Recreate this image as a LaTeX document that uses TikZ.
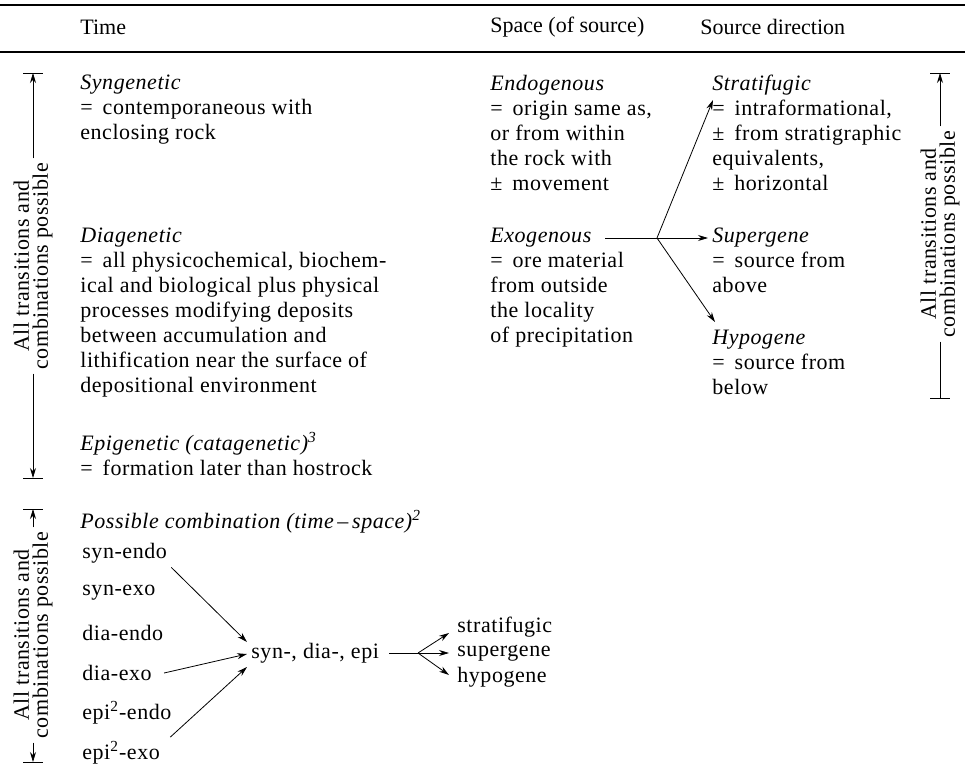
\documentclass[tikz,border=0pt]{standalone}
\usepackage{fontspec}
\setmainfont{Liberation Serif}[LetterSpace=2.5]
\newfontfamily\hdrfont{Liberation Serif}
\usetikzlibrary{positioning, calc, arrows.meta}

\tikzset{
  txt/.style={anchor=north west, inner sep=0pt, align=left, font=\fontsize{11}{12.5}\selectfont},
  item/.style={anchor=west, inner sep=2pt, font=\fontsize{11}{12.5}\selectfont},
  hdr/.style={anchor=west, inner sep=0pt, font=\hdrfont\fontsize{11}{12.5}\selectfont},
  brtxt/.style={rotate=90, align=center, inner sep=2pt, font=\fontsize{11}{9.5}\selectfont},
  arr/.style={-{Stealth[length=5pt,width=3pt]}, thin},
  tick/.style={thin},
  rule/.style={line width=0.6pt},
}
\newcommand{\eqs}{=\hspace{0.45em}}

\begin{document}
\begin{tikzpicture}[x=0.5pt,y=-0.5pt]
    \useasboundingbox (0,0) rectangle (965,771);

        % ===================================================
        % Header rules and column titles
        % ===================================================
        \draw[rule] (0,5) -- (965,5);
        \draw[rule] (0,52) -- (965,52);
        \node[hdr] (hTime) at (80,27) {Time};
        \node[hdr] (hSpace) at (490,27) {Space (of source)};
        \node[hdr] (hDir) at (700,27) {Source direction};

        % ===================================================
        % Time column
        % ===================================================
        \node[txt] (syn) at (80,75) {\textit{Syngenetic}\\
            \eqs contemporaneous with\\
            enclosing rock};
        \node[txt] (dia) at (80,228) {\textit{Diagenetic}\\
            \eqs all physicochemical, biochem-\\
            ical and biological plus physical\\
            processes modifying deposits\\
            between accumulation and\\
            lithification near the surface of\\
            depositional environment};
        \node[txt] (epi) at (80,432) {\textit{Epigenetic (catagenetic)\textsuperscript{3}}\\
            \eqs formation later than hostrock};

        % ===================================================
        % Space column
        % ===================================================
        \node[txt] (endo) at (490,75) {\textit{Endogenous}\\
            \eqs origin same as,\\
            or from within\\
            the rock with\\
            ±\hspace{0.45em}movement};
        \node[txt] (exo) at (490,228) {\textit{Exogenous}\\
            \eqs ore material\\
            from outside\\
            the locality\\
            of precipitation};

        % ===================================================
        % Source direction column
        % ===================================================
        \node[txt] (strat) at (712,75) {\textit{Stratifugic}\\
            \eqs intraformational,\\
            ±\hspace{0.45em}from stratigraphic\\
            equivalents,\\
            ±\hspace{0.45em}horizontal};
        \node[txt] (super) at (712,228) {\textit{Supergene}\\
            \eqs source from\\
            above};
        \node[txt] (hypo) at (712,330) {\textit{Hypogene}\\
            \eqs source from\\
            below};

        % exogenous -> three source directions
        \coordinate (exoEnd) at (605,238);
        \coordinate (hub) at (657,238);
        \coordinate (tStrat) at (713,100);
        \coordinate (tSuper) at (708,238);
        \coordinate (tHypo) at (715,322);
        \draw[thin] (exoEnd) -- (hub);
        \draw[arr] (hub) -- (tStrat);
        \draw[arr] (hub) -- (tSuper);
        \draw[arr] (hub) -- (tHypo);

        % ===================================================
        % Possible combinations
        % ===================================================
        \node[txt] (poss) at (80,510) {\textit{Possible combination (time\,--\,space)\textsuperscript{2}}};
        \node[item] (synendo) at (78,553) {syn-endo};
        \node[item] (synexo) at (78,593) {syn-exo};
        \node[item] (diaendo) at (78,633) {dia-endo};
        \node[item] (diaexo) at (78,673) {dia-exo};
        \node[item] (epiendo) at (78,713) {epi\textsuperscript{2}-endo};
        \node[item] (epiexo) at (78,753) {epi\textsuperscript{2}-exo};

        \node[item] (sde) at (247,653) {syn-, dia-, epi};
        \node[item] (cStrat) at (453,627) {stratifugic};
        \node[item] (cSuper) at (453,653) {supergene};
        \node[item] (cHypo) at (453,677) {hypogene};

        \draw[arr] (synendo.south east) -- ([yshift=5.5pt]sde.west);
        \draw[arr] ([xshift=4pt]diaexo.east) -- ([yshift=-0.5pt]sde.west);
        \draw[arr] ([xshift=3pt]epiexo.north east) -- ([yshift=-7pt]sde.west);

        \coordinate (hub2) at (418,653);
        \draw[thin] ([xshift=3pt]sde.east) -- (hub2);
        \draw[arr] (hub2) -- ([xshift=-2pt,yshift=-3pt]cStrat.west);
        \draw[arr] (hub2) -- ([xshift=-2pt]cSuper.west);
        \draw[arr] (hub2) -- ([xshift=-2pt,yshift=1pt]cHypo.west);

        % ===================================================
        % Brackets: all transitions and combinations possible
        % ===================================================
        \coordinate (bl1t) at (33,73);
        \coordinate (bl1b) at (33,478);
        \node[brtxt] (bl1) at (33,266) {All transitions and\\combinations possible};
        \draw[arr] (bl1.east) -- (bl1t);
        \draw[arr] (bl1.west) -- (bl1b);
        \draw[tick] ([xshift=-5pt]bl1t) -- ([xshift=5pt]bl1t);
        \draw[tick] ([xshift=-5pt]bl1b) -- ([xshift=5pt]bl1b);

        \coordinate (brt) at (940,73);
        \coordinate (brb) at (940,398);
        \node[brtxt] (br) at (940,234) {All transitions and\\combinations possible};
        \draw[arr] (br.east) -- (brt);
        \draw[thin] (br.west) -- (brb);
        \draw[tick] ([xshift=-5pt]brt) -- ([xshift=5pt]brt);
        \draw[tick] ([xshift=-5pt]brb) -- ([xshift=5pt]brb);

        \coordinate (bl2t) at (33,509);
        \coordinate (bl2b) at (33,762);
        \node[brtxt] (bl2) at (33,635) {All transitions and\\combinations possible};
        \draw[arr] (bl2.east) -- (bl2t);
        \draw[arr] (bl2.west) -- (bl2b);
        \draw[tick] ([xshift=-5pt]bl2t) -- ([xshift=5pt]bl2t);
        \draw[tick] ([xshift=-5pt]bl2b) -- ([xshift=5pt]bl2b);

    \end{tikzpicture}
\end{document}
